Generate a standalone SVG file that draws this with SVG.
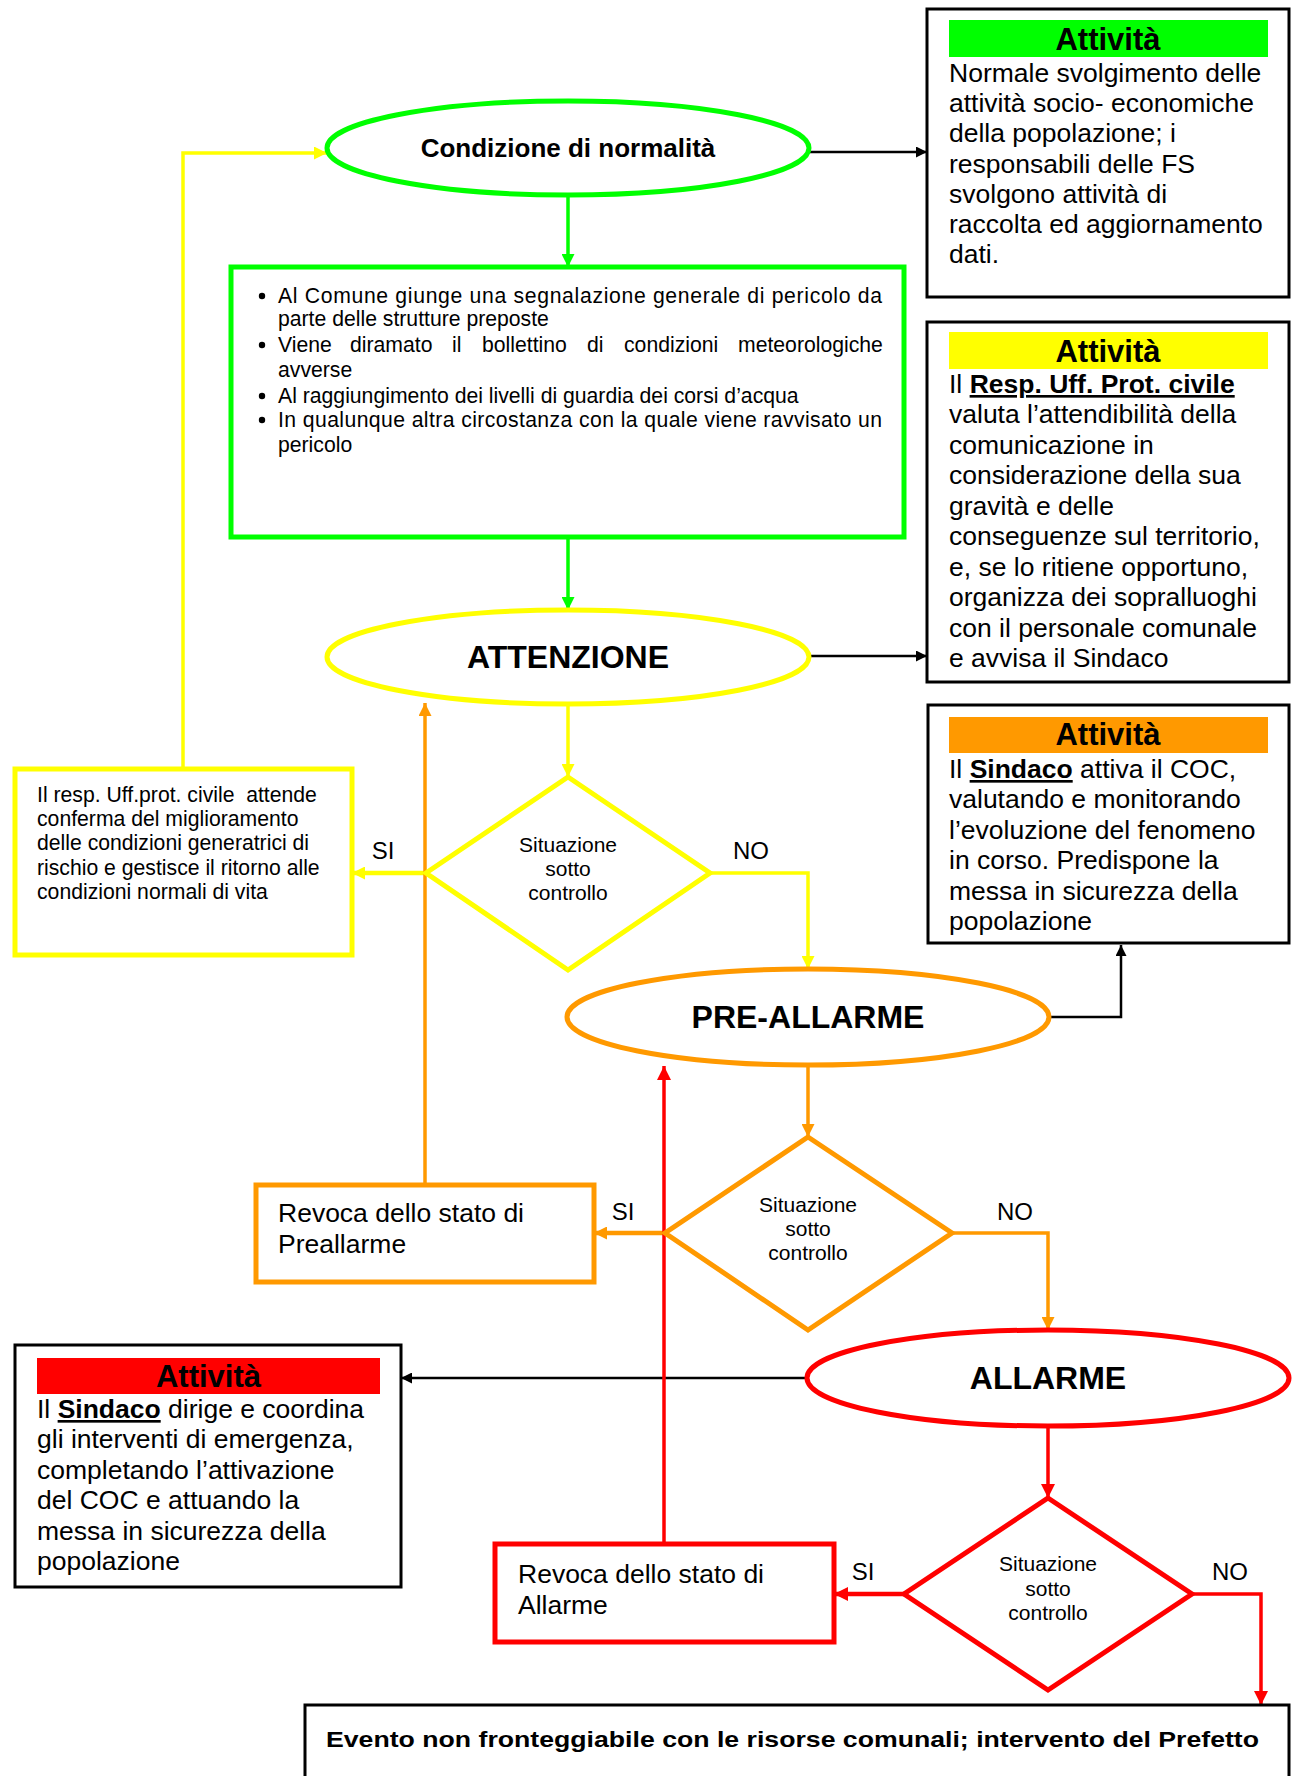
<svg xmlns="http://www.w3.org/2000/svg" width="1295" height="1776" viewBox="0 0 1295 1776">
<style>
text{font-family:"Liberation Sans",Arial,sans-serif;fill:#000}
.act{font-size:26.5px}
.ttl{font-size:31px;font-weight:bold;text-anchor:middle}
.st{font-size:32px;font-weight:bold;text-anchor:middle}
.fl{font-size:21.2px}
.dm{font-size:21px;text-anchor:middle}
.lb{font-size:24px;text-anchor:middle}
.rv{font-size:26.5px}
.bu{font-weight:bold;text-decoration:underline}
.box{fill:#fff;stroke:#000;stroke-width:3}
.g{stroke:#00FF00}.y{stroke:#FFFF00}.o{stroke:#FF9900}.r{stroke:#FF0000}
.shape{fill:#fff;stroke-width:5}
.c{fill:none;stroke-width:3.5}
.k{fill:none;stroke:#000;stroke-width:2.5}
</style>
<defs>
<marker id="mg" viewBox="0 0 10 10" refX="10" refY="5" markerWidth="13" markerHeight="13" markerUnits="userSpaceOnUse" orient="auto"><path d="M0,0 L10,5 L0,10 z" fill="#00FF00"/></marker>
<marker id="my" viewBox="0 0 10 10" refX="10" refY="5" markerWidth="13" markerHeight="13" markerUnits="userSpaceOnUse" orient="auto"><path d="M0,0 L10,5 L0,10 z" fill="#FFFF00"/></marker>
<marker id="mo" viewBox="0 0 10 10" refX="10" refY="5" markerWidth="13" markerHeight="13" markerUnits="userSpaceOnUse" orient="auto"><path d="M0,0 L10,5 L0,10 z" fill="#FF9900"/></marker>
<marker id="mr" viewBox="0 0 10 10" refX="10" refY="5" markerWidth="14" markerHeight="14" markerUnits="userSpaceOnUse" orient="auto"><path d="M0,0 L10,5 L0,10 z" fill="#FF0000"/></marker>
<marker id="mk" viewBox="0 0 10 10" refX="10" refY="5" markerWidth="12" markerHeight="11" markerUnits="userSpaceOnUse" orient="auto"><path d="M0,0 L10,5 L0,10 z" fill="#000"/></marker>
</defs>
<rect width="1295" height="1776" fill="#fff"/>

<g id="connectors">
<path class="k" d="M809,152 H927" marker-end="url(#mk)"/>
<path class="k" d="M809,656 H927" marker-end="url(#mk)"/>
<path class="k" d="M1049,1017 H1121 V945" marker-end="url(#mk)"/>
<path class="k" d="M807,1378 H401" marker-end="url(#mk)"/>
<path class="c g" d="M568,195 V267" marker-end="url(#mg)"/>
<path class="c g" d="M568,537 V610" marker-end="url(#mg)"/>
<path class="c y" d="M568,704 V777" marker-end="url(#my)"/>
<path class="c y" style="stroke-width:4.5" d="M426,873 H352" marker-end="url(#my)"/>
<path class="c y" d="M710,873 H808 V969" marker-end="url(#my)"/>
<path class="c y" d="M183,769 V153 H327" marker-end="url(#my)"/>
<path class="c o" d="M425,1185 V703" marker-end="url(#mo)"/>
<path class="c o" d="M808,1065 V1137" marker-end="url(#mo)"/>
<path class="c o" style="stroke-width:4.5" d="M665,1233 H594" marker-end="url(#mo)"/>
<path class="c o" d="M952,1233 H1048 V1330" marker-end="url(#mo)"/>
<path class="c r" d="M664,1544 V1066" marker-end="url(#mr)"/>
<path class="c r" d="M1048,1426 V1498" marker-end="url(#mr)"/>
<path class="c r" style="stroke-width:4.5" d="M904,1594 H834" marker-end="url(#mr)"/>
<path class="c r" d="M1192,1594 H1261 V1705" marker-end="url(#mr)"/>
</g>

<g id="att-normal">
<rect class="box" x="927" y="9" width="362" height="288"/>
<rect x="949" y="20" width="319" height="37" fill="#00FF00"/>
<text class="ttl" x="1108" y="50">Attività</text>
<text class="act" x="949" y="82">Normale svolgimento delle</text>
<text class="act" x="949" y="112">attività socio- economiche</text>
<text class="act" x="949" y="142">della popolazione; i</text>
<text class="act" x="949" y="173">responsabili delle FS</text>
<text class="act" x="949" y="203">svolgono attività di</text>
<text class="act" x="949" y="233">raccolta ed aggiornamento</text>
<text class="act" x="949" y="263">dati.</text>
</g>

<g id="att-attenzione">
<rect class="box" x="927" y="322" width="362" height="360"/>
<rect x="949" y="332" width="319" height="37" fill="#FFFF00"/>
<text class="ttl" x="1108" y="362">Attività</text>
<text class="act" x="949" y="393">Il <tspan class="bu">Resp. Uff. Prot. civile</tspan></text>
<text class="act" x="949" y="423">valuta l’attendibilità della</text>
<text class="act" x="949" y="454">comunicazione in</text>
<text class="act" x="949" y="484">considerazione della sua</text>
<text class="act" x="949" y="515">gravità e delle</text>
<text class="act" x="949" y="545">conseguenze sul territorio,</text>
<text class="act" x="949" y="576">e, se lo ritiene opportuno,</text>
<text class="act" x="949" y="606">organizza dei sopralluoghi</text>
<text class="act" x="949" y="637">con il personale comunale</text>
<text class="act" x="949" y="667">e avvisa il Sindaco</text>
</g>

<g id="att-preallarme">
<rect class="box" x="928" y="705" width="361" height="238"/>
<rect x="949" y="717" width="319" height="36" fill="#FF9900"/>
<text class="ttl" x="1108" y="745">Attività</text>
<text class="act" x="949" y="778">Il <tspan class="bu">Sindaco</tspan> attiva il COC,</text>
<text class="act" x="949" y="808">valutando e monitorando</text>
<text class="act" x="949" y="839">l’evoluzione del fenomeno</text>
<text class="act" x="949" y="869">in corso. Predispone la</text>
<text class="act" x="949" y="900">messa in sicurezza della</text>
<text class="act" x="949" y="930">popolazione</text>
</g>

<g id="att-allarme">
<rect class="box" x="15" y="1345" width="386" height="242"/>
<rect x="37" y="1358" width="343" height="36" fill="#FF0000"/>
<text class="ttl" x="208.5" y="1387">Attività</text>
<text class="act" x="37" y="1418">Il <tspan class="bu">Sindaco</tspan> dirige e coordina</text>
<text class="act" x="37" y="1448">gli interventi di emergenza,</text>
<text class="act" x="37" y="1479">completando l’attivazione</text>
<text class="act" x="37" y="1509">del COC e attuando la</text>
<text class="act" x="37" y="1540">messa in sicurezza della</text>
<text class="act" x="37" y="1570">popolazione</text>
</g>

<g id="normalita">
<ellipse class="shape g" cx="568" cy="148" rx="241" ry="47"/>
<text x="568" y="157" style="font-size:26px;font-weight:bold;text-anchor:middle">Condizione di normalità</text>
</g>

<g id="segnalazioni">
<rect class="shape g" x="231" y="267" width="673" height="270"/>
<circle cx="262" cy="296" r="3.2"/>
<circle cx="262" cy="345" r="3.2"/>
<circle cx="262" cy="396" r="3.2"/>
<circle cx="262" cy="420" r="3.2"/>
<text class="fl" x="278" y="303" textLength="604" lengthAdjust="spacing">Al Comune giunge una segnalazione generale di pericolo da</text>
<text class="fl" x="278" y="326">parte delle strutture preposte</text>
<text class="fl" y="352"><tspan x="278">Viene</tspan><tspan x="350">diramato</tspan><tspan x="452">il</tspan><tspan x="482">bollettino</tspan><tspan x="587">di</tspan><tspan x="624">condizioni</tspan><tspan x="738">meteorologiche</tspan></text>
<text class="fl" x="278" y="377">avverse</text>
<text class="fl" x="278" y="403">Al raggiungimento dei livelli di guardia dei corsi d’acqua</text>
<text class="fl" x="278" y="427" textLength="604" lengthAdjust="spacing">In qualunque altra circostanza con la quale viene ravvisato un</text>
<text class="fl" x="278" y="452">pericolo</text>
</g>

<g id="attenzione">
<ellipse class="shape y" cx="568" cy="657" rx="241" ry="47"/>
<text class="st" x="568" y="668">ATTENZIONE</text>
</g>

<g id="decisione1">
<polygon class="shape y" points="568,777 710,873 568,970 426,873"/>
<text class="dm" x="568" y="852">Situazione</text>
<text class="dm" x="568" y="876">sotto</text>
<text class="dm" x="568" y="900">controllo</text>
<text class="lb" x="383" y="859">SI</text>
<text class="lb" x="751" y="859">NO</text>
</g>

<g id="ritorno">
<rect class="shape y" x="15" y="769" width="337" height="186"/>
<text class="fl" x="37" y="802" style="white-space:pre">Il resp. Uff.prot. civile  attende</text>
<text class="fl" x="37" y="826">conferma del miglioramento</text>
<text class="fl" x="37" y="850">delle condizioni generatrici di</text>
<text class="fl" x="37" y="875">rischio e gestisce il ritorno alle</text>
<text class="fl" x="37" y="899">condizioni normali di vita</text>
</g>

<g id="preallarme">
<ellipse class="shape o" cx="808" cy="1017" rx="241" ry="48"/>
<text class="st" x="808" y="1028">PRE-ALLARME</text>
</g>

<g id="decisione2">
<polygon class="shape o" points="808,1137 952,1233 808,1330 665,1233"/>
<text class="dm" x="808" y="1212">Situazione</text>
<text class="dm" x="808" y="1236">sotto</text>
<text class="dm" x="808" y="1260">controllo</text>
<text class="lb" x="623" y="1220">SI</text>
<text class="lb" x="1015" y="1220">NO</text>
</g>

<g id="revoca-preallarme">
<rect class="shape o" x="256" y="1185" width="338" height="97"/>
<text class="rv" x="278" y="1222">Revoca dello stato di</text>
<text class="rv" x="278" y="1253">Preallarme</text>
</g>

<g id="allarme">
<ellipse class="shape r" cx="1048" cy="1378" rx="241" ry="48"/>
<text class="st" x="1048" y="1389">ALLARME</text>
</g>

<g id="decisione3">
<polygon class="shape r" points="1048,1498 1192,1594 1048,1690 904,1594"/>
<text class="dm" x="1048" y="1571">Situazione</text>
<text class="dm" x="1048" y="1596">sotto</text>
<text class="dm" x="1048" y="1620">controllo</text>
<text class="lb" x="863" y="1580">SI</text>
<text class="lb" x="1230" y="1580">NO</text>
</g>

<g id="revoca-allarme">
<rect class="shape r" x="495" y="1544" width="339" height="98"/>
<text class="rv" x="518" y="1583">Revoca dello stato di</text>
<text class="rv" x="518" y="1614">Allarme</text>
</g>

<g id="prefetto">
<rect class="box" x="305" y="1705" width="984" height="100"/>
<text x="326" y="1747" textLength="933" lengthAdjust="spacingAndGlyphs" style="font-size:22px;font-weight:bold">Evento non fronteggiabile con le risorse comunali; intervento del Prefetto</text>
</g>
</svg>
